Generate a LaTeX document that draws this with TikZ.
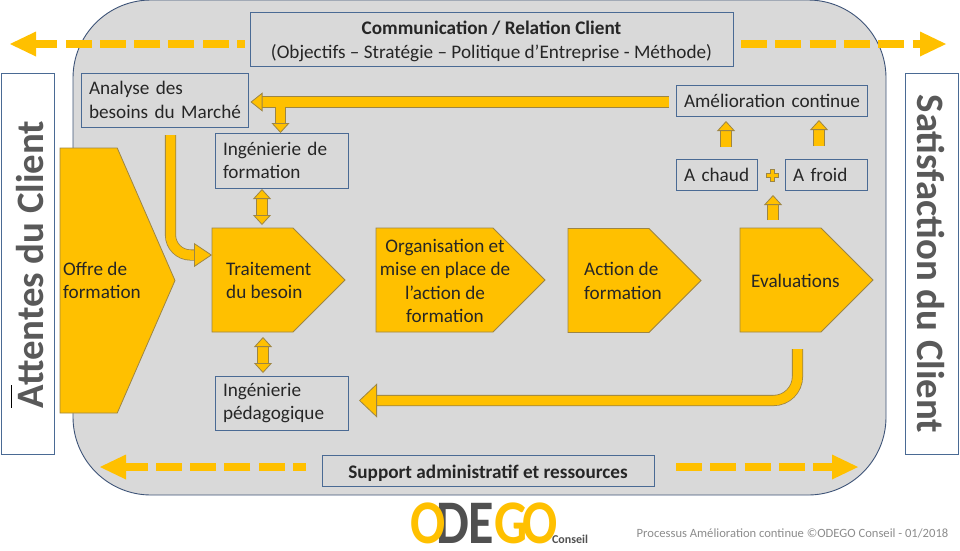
\documentclass[tikz,border=0pt]{standalone}
\usepackage{fontspec}
\setmainfont{Carlito}
\usetikzlibrary{shapes,arrows.meta,positioning,calc}
\definecolor{gold}{HTML}{FFC000}
\definecolor{golddark}{HTML}{9C8545}
\definecolor{slate}{HTML}{4A6A94}
\definecolor{panelgrey}{HTML}{D9D9D9}
\definecolor{edgenavy}{HTML}{3E5478}
\definecolor{sidegrey}{HTML}{595959}
\definecolor{logogrey}{HTML}{505050}
\newcommand{\dropstrut}{\rule{0pt}{18.5pt}}
\tikzset{
  box/.style={draw=slate, line width=0.8pt, inner xsep=8pt, inner ysep=0pt, outer sep=0pt, align=left, font=\fontsize{19.2}{23.5}\selectfont, text=black!85},
  sidebox/.style={draw=slate, fill=white, line width=0.8pt, minimum width=53pt, minimum height=381pt, outer sep=0pt},
  sidetext/.style={text=sidegrey, font=\fontsize{38.8}{38.8}\selectfont\bfseries},
  pent/.style={shape=signal, signal to=east, signal from=nowhere, signal pointer angle=90, fill=gold, draw=golddark, line width=0.8pt, anchor=west, minimum width=133pt, minimum height=104pt, inner sep=0pt, outer sep=0pt},
  pentlabel/.style={inner sep=0pt, anchor=west, align=left, font=\fontsize{19.2}{23.5}\selectfont, text=black!85},
  flow/.style={double=gold, draw=golddark, line width=0.8pt, double distance=9.5pt},
  flowsmall/.style={flow, -{Triangle[length=10pt,width=18pt,fill=gold,color=golddark,line width=0.8pt]}},
  flowboth/.style={flow, {Triangle[length=10pt,width=18pt,fill=gold,color=golddark,line width=0.8pt]}-{Triangle[length=10pt,width=18pt,fill=gold,color=golddark,line width=0.8pt]}},
  dashlink/.style={draw=gold, line width=8pt, dash pattern=on 26pt off 8.3pt, -{Triangle[length=26pt,width=25pt,fill=gold,color=gold,line width=0pt]}},
  logoletter/.style={inner sep=0pt, transform shape, font=\fontsize{62}{62}\selectfont\bfseries},
}
\begin{document}
\begin{tikzpicture}[x=1pt,y=-1pt]
\useasboundingbox (0,0) rectangle (960,550);
\node[draw=edgenavy, fill=panelgrey, line width=0.9pt, rounded corners=78pt, minimum width=813pt, minimum height=495pt, outer sep=0pt] (panel) at (479.5,247.5) {};

\node[sidebox] (attentes) at (27.5,263.5) {};
\node[sidebox] (satisfaction) at (931.5,263.5) {};
\node[sidetext, rotate=90] (attentestext) at (30,264.5) {Attentes du Client};
\node[sidetext, rotate=-90] (satisfactiontext) at (931,264) {Satisfaction du Client};
\draw[black, line width=0.8pt] (11.5,385) -- (11.5,408);

\node[box, align=center, minimum width=483pt, minimum height=54pt] (communication) at (491.5,39) {\dropstrut\textbf{Communication / Relation Client}\\(Objectifs – Stratégie – Politique d’Entreprise - Méthode)};
\node[box, text width=151pt, minimum height=54pt] (analyse) at (164.5,100) {Analyse des\\\mbox{besoins du Marché}};
\node[box, text width=117pt, minimum height=55pt] (ingformation) at (281.5,160.5) {Ingénierie de\\formation};
\node[box, text width=175pt, minimum height=31pt] (amelioration) at (771.5,100.5) {\mbox{Amélioration continue}};
\node[box, text width=65pt, minimum height=31pt] (chaud) at (716.5,174.5) {\mbox{A chaud}};
\node[box, text width=66pt, minimum height=31pt] (froid) at (826,174.5) {\mbox{A froid}};
\node[box, text width=117pt, minimum height=54pt] (ingpedago) at (281.5,403) {Ingénierie\\pédagogique};
\node[box, align=center, minimum width=332pt, minimum height=31pt] (support) at (488,470.5) {\dropstrut\textbf{Support administratif et ressources}};

% pentagons
\node[pent, minimum width=115pt, minimum height=265pt, signal pointer angle=132.9] (offre) at (60,280.5) {};
\node[pent] (traitement) at (212,280) {};
\node[pent, minimum width=169pt] (organisation) at (376,280) {};
\node[pent] (action) at (568,280.5) {};
\node[pent] (evaluations) at (740,280) {};
\node[pentlabel] (offrelabel) at (63,280.5) {Offre de\\formation};
\node[pentlabel] (traitementlabel) at (226,280.5) {Traitement\\du besoin};
\node[pentlabel, anchor=center, align=center] (organisationlabel) at (445,281) {Organisation et\\mise en place de\\l’action de\\formation};
\node[pentlabel] (actionlabel) at (584,281) {Action de\\formation};
\node[pentlabel] (evaluationslabel) at (751,281) {Evaluations};

% links
\draw[dashlink, dash phase=18pt] (communication.west |- 0,44) ++(-5,0) -- (10,44);
\draw[dashlink] (communication.east |- 0,44) ++(8,0) -- (946,44);
\draw[dashlink, dash phase=13pt] (support.west |- 0,467) ++(-16,0) -- (100,467);
\draw[dashlink] (support.east |- 0,467) ++(22,0) -- (858,467);

\draw[flow, shorten >=2.5pt, -{Triangle[length=12pt,width=19pt,fill=gold,color=golddark,line width=0.8pt]}] (amelioration.west |- 0,102) ++(-7,0) -- (analyse.east |- 0,102);
\draw[flowsmall] (280.5,107) -- (ingformation.north -| 280.5,0);
\draw[flowboth] (ingformation.south -| 262,0) ++(0,1) -- (262,225);
\draw[flowboth] (263,337) -- (263,373);
\draw[flow, rounded corners=20pt, -{Triangle[length=18pt,width=24pt,fill=gold,color=golddark,line width=0.8pt]}] (analyse.south -| 170.5,0) ++(0,8) -- (170.5,255) -- (traitement.west |- 0,255);
\draw[flow, rounded corners=24pt, -{Triangle[length=18pt,width=34pt,fill=gold,color=golddark,line width=0.8pt]}] (797.5,349) -- (797.5,400.5) -- (359,400.5);
\draw[flowsmall] (726,147) -- (726,121);
\draw[flowsmall] (819,146) -- (819,120);
\draw[flowsmall] (773,220) -- (773,195);

% plus sign
\draw[fill=gold, draw=golddark, line width=0.6pt] (770,169) -- (774,169) -- (774,173) -- (778,173) -- (778,177) -- (774,177) -- (774,181) -- (770,181) -- (770,177) -- (766,177) -- (766,173) -- (770,173) -- cycle;

% logo
\begin{scope}[xscale=0.84]
\node[logoletter, text=logogrey] (logod) at (453/0.84,523) {D};
\node[logoletter, text=logogrey] (logoe) at (481/0.84,523) {E};
\node[logoletter, text=gold] (logoo) at (428.5/0.84,523) {O};
\node[logoletter, text=gold] (logog) at (511/0.84,523) {G};
\node[logoletter, text=gold] (logoq) at (540/0.84,523) {O};
\end{scope}
\node[inner sep=0pt, text=logogrey, font=\fontsize{12}{12}\selectfont\bfseries] (conseil) at (570,539) {Conseil};
\node[inner sep=0pt, text=black!45, font=\fontsize{12.6}{12.6}\selectfont] (credit) at (792.5,533) {Processus Amélioration continue ©ODEGO Conseil - 01/2018};
\end{tikzpicture}
\end{document}
